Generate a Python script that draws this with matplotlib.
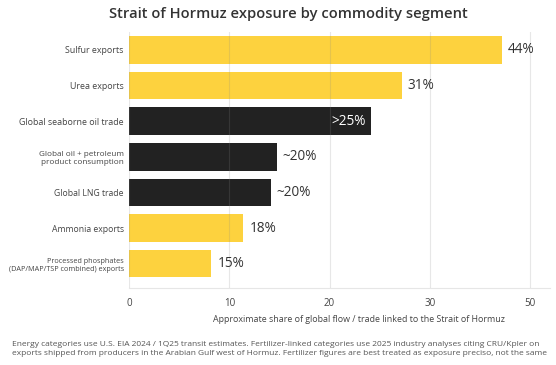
import numpy as np
import matplotlib
matplotlib.use("Agg")
import matplotlib.pyplot as plt

plt.rcParams['font.family'] = ['Open Sans', 'DejaVu Sans']

# categories, top to bottom
categories = [
    "Sulfur exports",
    "Urea exports",
    "Global seaborne oil trade",
    "Global oil + petroleum\nproduct consumption",
    "Global LNG trade",
    "Ammonia exports",
    "Processed phosphates\n(DAP/MAP/TSP combined) exports",
]
label_sizes = [6.4, 6.4, 6.4, 5.9, 6.2, 6.2, 5.2]
# bar lengths as drawn against the axis
bar_lengths = [37.2, 27.2, 24.1, 14.7, 14.1, 11.4, 8.2]
# printed value labels
value_labels = ["44%", "31%", ">25%", "~20%", "~20%", "18%", "15%"]
is_energy = [False, False, True, True, True, False, False]

tick_pos = [0, 10, 20, 30, 40]
tick_labels = ["0", "10", "20", "30", "50"]

YELLOW = "#FDD23E"
DARK = "#222222"

fig = plt.figure(figsize=(5.56, 3.65), dpi=100)
ax = fig.add_axes([0.2326, 0.210, 0.7564, 0.702])

y = np.arange(len(categories))
colors = [DARK if e else YELLOW for e in is_energy]
ax.barh(y, bar_lengths, height=0.77, color=colors, zorder=1)

ax.set_ylim(6.69, -0.5)
ax.set_xlim(0, 42)
ax.set_xticks(tick_pos)
ax.set_xticklabels(tick_labels, fontsize=7, color="#444444")
ax.set_yticks(y)
ax.set_yticklabels(categories, color="#444444")
for t, s in zip(ax.get_yticklabels(), label_sizes):
    t.set_fontsize(s)
    t.set_linespacing(1.15)
ax.tick_params(length=0, pad=4)
ax.tick_params(axis='x', pad=7)

# light grid on top of bars
ax.grid(axis='x', color="#888888", alpha=0.2, linewidth=0.8, zorder=3)
ax.set_axisbelow(False)
for s in ["top", "right", "left"]:
    ax.spines[s].set_visible(False)
ax.spines["bottom"].set_color("#e6e6e6")
ax.spines["bottom"].set_linewidth(0.8)

for i, (v, lab) in enumerate(zip(bar_lengths, value_labels)):
    if lab.startswith(">"):
        ax.text(v - 0.5, i, lab, ha="right", va="center", fontsize=9.8, color="white", zorder=4)
    else:
        ax.text(v + 0.6, i, lab, ha="left", va="center", fontsize=9.8, color="#333333", zorder=4)

ax.set_xlabel("Approximate share of global flow / trade linked to the Strait of Hormuz",
              fontsize=6.4, color="#444444")
ax.xaxis.set_label_coords(0.546, -0.105)

fig.text(0.518, 0.962, "Strait of Hormuz exposure by commodity segment",
         ha="center", va="center", fontsize=10.6, fontweight="semibold", color="#333333")

fig.text(0.022, 0.044,
         "Energy categories use U.S. EIA 2024 / 1Q25 transit estimates. Fertilizer-linked categories use 2025 industry analyses citing CRU/Kpler on\n"
         "exports shipped from producers in the Arabian Gulf west of Hormuz. Fertilizer figures are best treated as exposure preciso, not the same",
         ha="left", va="center", fontsize=6.0, color="#555555", linespacing=1.5)

fig.savefig("out.png", dpi=100, facecolor="white")
